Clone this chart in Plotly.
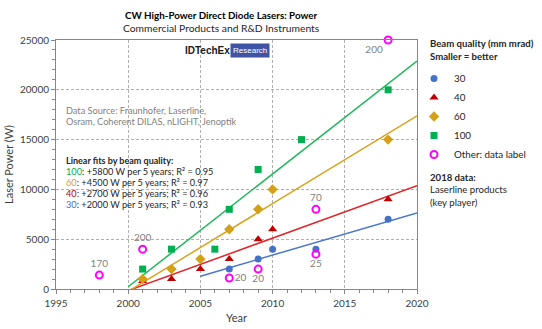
import numpy as np
import plotly.graph_objects as go

# ---- data ----
years_30 = [2007, 2009, 2010, 2013, 2018]
power_30 = [2000, 3000, 4000, 4000, 7000]
years_40 = [2001, 2003, 2005, 2007, 2009, 2010, 2018]
power_40 = [800, 1000, 2000, 3000, 5000, 6000, 9000]
years_60 = [2001, 2003, 2005, 2007, 2009, 2010, 2018]
power_60 = [1000, 2000, 3000, 6000, 8000, 10000, 15000]
years_100 = [2001, 2003, 2006, 2007, 2009, 2012, 2018]
power_100 = [2000, 4000, 4000, 8000, 12000, 15000, 20000]
years_other = [1998, 2001, 2007, 2009, 2013, 2013, 2018]
power_other = [1400, 4000, 1100, 2000, 8000, 3500, 25000]
labels_other = ["170", "200", "20", "20", "70", "25", "200"]
label_pos_other = ["top center", "top center", "middle right", "bottom center",
                   "top center", "bottom center", "bottom left"]

series_names = ["30", "40", "60", "100"]
fit_start_years = [2005, 2000, 2000, 2000]
fit_end_year = 2020
fit_texts = ["+2000 W per 5 years; R² = 0.93", "+2700 W per 5 years; R² = 0.96",
             "+4500 W per 5 years; R² = 0.97", "+5800 W per 5 years; R² = 0.95"]

FONT = "Lato"
marker_colors = ["#4472C4", "#C00000", "#D4A017", "#00B050"]
line_colors = ["#4A78CC", "#E0262A", "#D9A520", "#1DB85A"]
symbols = ["circle", "triangle-up", "diamond", "square"]
sizes = [7, 8, 8, 7]

xs = [years_30, years_40, years_60, years_100]
ys = [power_30, power_40, power_60, power_100]

fig = go.Figure()

# fit lines (least squares on each series)
for i in range(4):
    k, b = np.polyfit(xs[i], ys[i], 1)
    fx = [fit_start_years[i], fit_end_year]
    fy = [k * x + b for x in fx]
    fig.add_trace(go.Scatter(x=fx, y=fy, mode="lines", showlegend=False,
                             line=dict(color=line_colors[i], width=1.5),
                             hoverinfo="skip"))

for i in range(4):
    fig.add_trace(go.Scatter(x=xs[i], y=ys[i], mode="markers", name=series_names[i],
                             marker=dict(symbol=symbols[i], size=sizes[i],
                                         color=marker_colors[i], line=dict(width=0))))

fig.add_trace(go.Scatter(x=years_other, y=power_other, mode="markers+text",
                         name="Other: data label", text=labels_other,
                         textposition=label_pos_other,
                         textfont=dict(family=FONT, size=10, color="#7F7F7F"),
                         cliponaxis=False,
                         marker=dict(symbol="circle-open", size=7, color="#FF00FF",
                                     line=dict(width=2, color="#FF00FF"))))

axis_common = dict(showline=True, linecolor="#868686", linewidth=1, mirror=True,
                   showgrid=True, gridcolor="#B0B0B0", griddash="3px,2px", gridwidth=1,
                   zeroline=False, ticks="outside", ticklen=4, tickcolor="#868686",
                   tickfont=dict(family=FONT, size=10, color="#404040"))

fig.update_xaxes(range=[1995, 2020], tick0=1995, dtick=5, ticklabelstandoff=1,
                 minor=dict(dtick=1, ticks="outside", ticklen=3, tickcolor="#868686", showgrid=False),
                 title=dict(text="Year", font=dict(family=FONT, size=11, color="#404040"), standoff=6),
                 **axis_common)
fig.update_yaxes(range=[0, 25000], tick0=0, dtick=5000, tickformat="d",
                 minor=dict(dtick=1000, ticks="outside", ticklen=3, tickcolor="#868686", showgrid=False),
                 title=dict(text="Laser Power (W)", font=dict(family=FONT, size=11, color="#404040"), standoff=4),
                 **axis_common)

annotations = [
    dict(text="<b>CW High-Power Direct Diode Lasers: Power</b>", x=221, y=15,
         font=dict(family=FONT, size=9.8, color="#000000")),
    dict(text="Commercial Products and R&D Instruments", x=221, y=28,
         font=dict(family=FONT, size=10.3, color="#262626")),
    dict(text="<b>IDTechEx</b>", x=207, y=50, font=dict(family="Liberation Sans", size=10, color="#1a1a1a")),
    dict(text="Research", x=250, y=50, bgcolor="#3F54A5", borderpad=2,
         font=dict(family="Liberation Sans", size=8, color="#FFFFFF")),
    dict(text="Data Source: Fraunhofer, Laserline,", x=64, y=110, xanchor="left",
         font=dict(family=FONT, size=9.2, color="#7F7F7F")),
    dict(text="Osram, Coherent DILAS, nLIGHT, Jenoptik", x=64, y=121, xanchor="left",
         font=dict(family=FONT, size=9.2, color="#7F7F7F")),
    dict(text="<b>Linear fits by beam quality:</b>", x=64, y=160, xanchor="left",
         font=dict(family=FONT, size=9, color="#262626")),
    dict(text="<b>Beam quality (mm mrad)</b>", x=428, y=44, xanchor="left",
         font=dict(family=FONT, size=9.6, color="#262626")),
    dict(text="<b>Smaller = better</b>", x=428, y=56, xanchor="left",
         font=dict(family=FONT, size=9.6, color="#262626")),
    dict(text="<b>2018 data:</b>", x=428, y=177, xanchor="left",
         font=dict(family=FONT, size=9.6, color="#262626")),
    dict(text="Laserline products", x=428, y=190, xanchor="left",
         font=dict(family=FONT, size=9.6, color="#262626")),
    dict(text="(key player)", x=428, y=202, xanchor="left",
         font=dict(family=FONT, size=9.6, color="#262626")),
]
fit_y = [171.5, 182.5, 193.5, 204.5]
for j, (name, col, txt) in enumerate(zip(series_names[::-1], marker_colors[::-1], fit_texts[::-1])):
    annotations.append(dict(text=f"<span style='color:{col}'>{name}</span>: {txt}",
                            x=64, y=fit_y[j], xanchor="left",
                            font=dict(family=FONT, size=9.2, color="#262626")))
for a in annotations:
    a.setdefault("xanchor", "center")
    a.update(xref="paper", yref="paper", showarrow=False, yanchor="middle")
    a["x"] = (a["x"] - 56) / 361
    a["y"] = (289 - a["y"]) / 249

fig.update_layout(
    annotations=annotations,
    width=542, height=329,
    margin=dict(l=56, r=125, t=40, b=40, autoexpand=False),
    paper_bgcolor="white", plot_bgcolor="white",
    font=dict(family=FONT, size=10, color="#262626"),
    legend=dict(x=(414 - 56) / 361, y=(289 - 64) / 249, xanchor="left", yanchor="top",
                font=dict(family=FONT, size=9.8, color="#262626"),
                itemwidth=30, tracegroupgap=0, bgcolor="rgba(0,0,0,0)"),
)

fig.write_html("out.html")
